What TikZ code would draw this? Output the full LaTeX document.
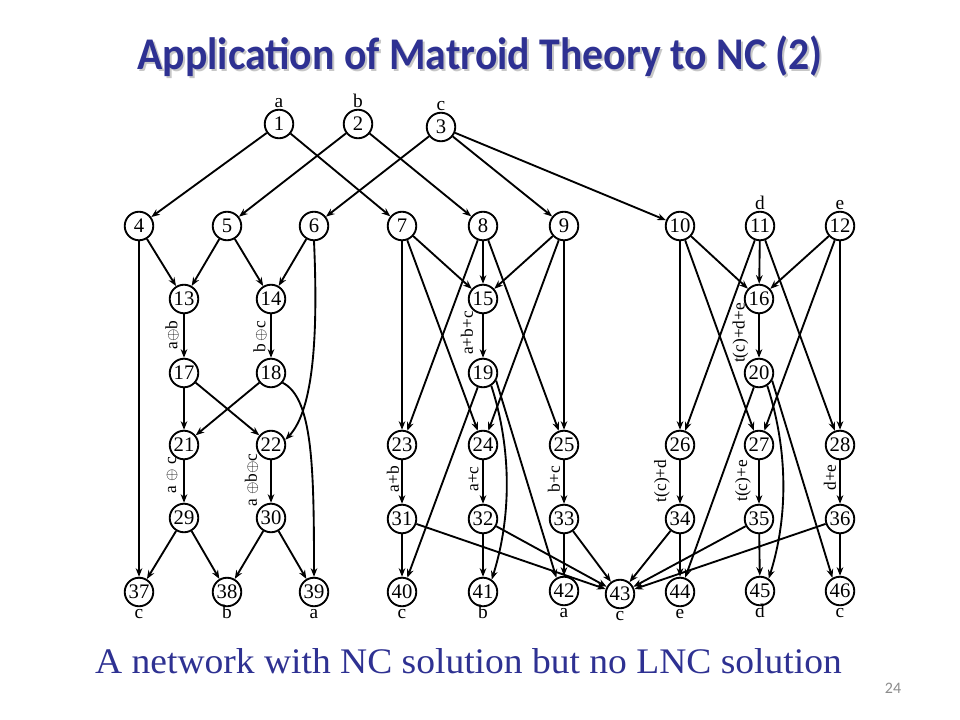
\documentclass[tikz,border=0pt]{standalone}
\usepackage{fontspec}
\usepackage{graphicx}
\setmainfont{Liberation Serif}
\newfontfamily\titlefont{Carlito}
\usetikzlibrary{arrows.meta}
\definecolor{slideblue}{RGB}{46,49,146}
\definecolor{pagegray}{RGB}{140,140,140}
\begin{document}
\begin{tikzpicture}[x=0.75pt,y=-0.75pt,
  nd/.style={circle,draw,line width=1.4pt,minimum size=21.4pt,inner sep=0pt,
    font=\fontsize{15.5}{16}\selectfont},
  arr/.style={-{Stealth[length=6.5pt,width=5pt]},line width=1.4pt},
  elab/.style={rotate=90,anchor=center,inner sep=0pt,font=\fontsize{13}{14}\selectfont},
  toplab/.style={label={[inner sep=1pt,text depth=0pt,font=\fontsize{14.5}{15}\selectfont,label distance=0pt]above:#1}},
  botlab/.style={label={[inner sep=0.5pt,text height=8pt,text depth=0pt,font=\fontsize{14.5}{15}\selectfont,label distance=0pt]below:#1}}]
\fill[white] (0,0) rectangle (960,720);
\useasboundingbox (0,0) rectangle (960,720);
% title
\node[anchor=base,text=black!22,font=\titlefont\bfseries\fontsize{34}{40}\selectfont] (titleshadow) at (482,72) {\resizebox{514pt}{\height}{Application of Matroid Theory to NC (2)}};
\node[anchor=base,text=slideblue,font=\titlefont\bfseries\fontsize{34}{40}\selectfont] (title) at (480,70) {\resizebox{514pt}{\height}{Application of Matroid Theory to NC (2)}};
% caption
\node[anchor=base,text=slideblue,font=\fontsize{27}{30}\selectfont] (caption) at (468.5,673) {\resizebox{560pt}{\height}{A network with NC solution but no LNC solution}};
\node[text=pagegray,font=\titlefont\fontsize{12}{14}\selectfont] (pagenum) at (893,688) {24};
% nodes
\node[nd,toplab=a] (n1) at (279,124) {1};
\node[nd,toplab=b] (n2) at (358,124) {2};
\node[nd,toplab=c] (n3) at (441,127) {3};
\node[nd] (n4) at (139,226) {4};
\node[nd] (n5) at (227,226) {5};
\node[nd] (n6) at (314,226) {6};
\node[nd] (n7) at (402,226) {7};
\node[nd] (n8) at (483,226) {8};
\node[nd] (n9) at (564,226) {9};
\node[nd] (n10) at (680,226) {10};
\node[nd,toplab=d] (n11) at (760,226) {11};
\node[nd,toplab=e] (n12) at (840,226) {12};
\node[nd] (n13) at (184,299) {13};
\node[nd] (n14) at (271,299) {14};
\node[nd] (n15) at (483,299) {15};
\node[nd] (n16) at (759,299) {16};
\node[nd] (n17) at (184,373) {17};
\node[nd] (n18) at (271,373) {18};
\node[nd] (n19) at (483,373) {19};
\node[nd] (n20) at (759,373) {20};
\node[nd] (n21) at (184,445) {21};
\node[nd] (n22) at (271,445) {22};
\node[nd] (n23) at (402,445) {23};
\node[nd] (n24) at (483,445) {24};
\node[nd] (n25) at (564,445) {25};
\node[nd] (n26) at (680,445) {26};
\node[nd] (n27) at (759,445) {27};
\node[nd] (n28) at (840,445) {28};
\node[nd] (n29) at (184,518) {29};
\node[nd] (n30) at (271,518) {30};
\node[nd] (n31) at (402,519) {31};
\node[nd] (n32) at (483,519) {32};
\node[nd] (n33) at (564,519) {33};
\node[nd] (n34) at (680,519) {34};
\node[nd] (n35) at (759,519) {35};
\node[nd] (n36) at (840,519) {36};
\node[nd,botlab=c] (n37) at (139,592) {37};
\node[nd,botlab=b] (n38) at (227,592) {38};
\node[nd,botlab=a] (n39) at (314,592) {39};
\node[nd,botlab=c] (n40) at (402,592) {40};
\node[nd,botlab=b] (n41) at (483,592) {41};
\node[nd,botlab=a] (n42) at (564,591) {42};
\node[nd,botlab=c] (n43) at (620,594) {43};
\node[nd,botlab=e] (n44) at (680,592) {44};
\node[nd,botlab=d] (n45) at (760,591) {45};
\node[nd,botlab=c] (n46) at (840,591) {46};
% straight edges
\foreach \a/\b in {1/4,1/7,2/5,2/8,3/6,3/9,3/10,
  4/13,4/37,5/13,5/14,6/14,
  13/17,14/18,17/21,17/22,18/21,21/29,22/30,29/37,29/38,30/38,30/39,
  7/15,7/23,7/24,8/15,8/23,8/25,9/15,9/24,9/25,
  15/19,19/40,23/31,24/32,25/33,31/40,32/41,33/42,
  10/16,10/26,10/27,11/16,11/26,11/28,12/16,12/27,12/28,
  16/20,20/44,26/34,27/35,28/36,34/44,35/45,36/46,
  31/43,32/43,33/43,34/43,35/43,36/43}
  \draw[arr] (n\a) -- (n\b);
% edge labels (rotated)
\node[elab] (l1317) at (172,335) {a$\oplus$b};
\node[elab] (l1418) at (260,337) {b\,$\oplus$c};
\node[elab] (l1519) at (467,333) {a+b+c};
\node[elab] (l1620) at (740.5,333) {t(c)+d+e};
\node[elab] (l2129) at (172,475) {a $\oplus$ c};
\node[elab] (l2230) at (251.5,480) {a $\oplus$b$\oplus$c};
\node[elab] (l2331) at (393,479) {a+b};
\node[elab] (l2432) at (473.5,479) {a+c};
\node[elab] (l2533) at (554,479) {b+c};
\node[elab] (l2634) at (662,481) {t(c)+d};
\node[elab] (l2735) at (743,481) {t(c)+e};
\node[elab] (l2836) at (830,477.5) {d+e};
% curved edges
\draw[arr] (n6.south) .. controls +(4,90) and +(29,-30) .. (n22.20);
\draw[arr] (n18.-40) .. controls +(30,15) and +(0,-110) .. (n39.north);
\draw[arr] (n19.-57) .. controls +(18,55) and +(22,-70) .. (n41.55);
\draw[arr] (n19.-30) -- (n42.120);
\draw[arr] (n20.-57) .. controls +(18,55) and +(22,-70) .. (n45.55);
\draw[arr] (n20.-30) -- (n46.120);
\end{tikzpicture}
\end{document}
